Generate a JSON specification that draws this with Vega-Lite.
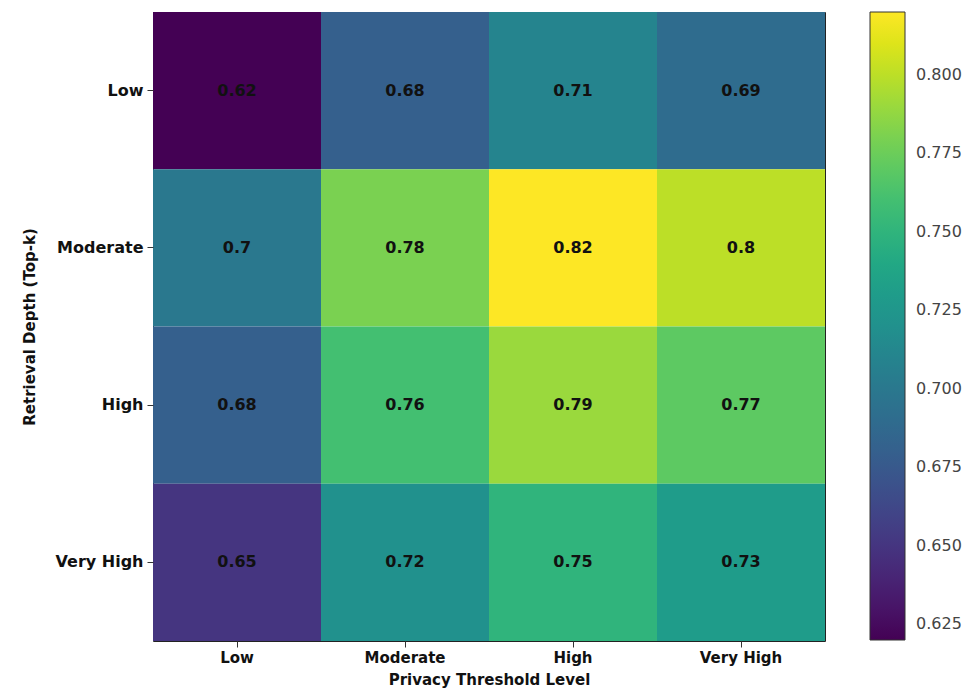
{
  "$schema": "https://vega.github.io/schema/vega-lite/v6.json",
  "width": 672,
  "height": 629,
  "autosize": {"type": "none"},
  "padding": {"left": 153, "top": 12, "right": 148, "bottom": 54},
  "background": "white",
  "config": {
    "font": "DejaVu Sans",
    "view": {"stroke": "#222", "strokeWidth": 1}
  },
  "data": {
    "values": [
      {"depth": "Low", "privacy": "Low", "value": 0.62},
      {"depth": "Low", "privacy": "Moderate", "value": 0.68},
      {"depth": "Low", "privacy": "High", "value": 0.71},
      {"depth": "Low", "privacy": "Very High", "value": 0.69},
      {"depth": "Moderate", "privacy": "Low", "value": 0.70},
      {"depth": "Moderate", "privacy": "Moderate", "value": 0.78},
      {"depth": "Moderate", "privacy": "High", "value": 0.82},
      {"depth": "Moderate", "privacy": "Very High", "value": 0.80},
      {"depth": "High", "privacy": "Low", "value": 0.68},
      {"depth": "High", "privacy": "Moderate", "value": 0.76},
      {"depth": "High", "privacy": "High", "value": 0.79},
      {"depth": "High", "privacy": "Very High", "value": 0.77},
      {"depth": "Very High", "privacy": "Low", "value": 0.65},
      {"depth": "Very High", "privacy": "Moderate", "value": 0.72},
      {"depth": "Very High", "privacy": "High", "value": 0.75},
      {"depth": "Very High", "privacy": "Very High", "value": 0.73}
    ]
  },
  "encoding": {
    "x": {
      "field": "privacy", "type": "ordinal",
      "sort": ["Low", "Moderate", "High", "Very High"],
      "scale": {"paddingInner": 0, "paddingOuter": 0},
      "axis": {
        "title": "Privacy Threshold Level",
        "labelAngle": 0,
        "labelFont": "DejaVu Sans", "labelFontSize": 15, "labelFontWeight": "bold", "labelColor": "#111",
        "titleFont": "DejaVu Sans", "titleFontSize": 15, "titleFontWeight": "bold", "titleColor": "#111",
        "tickSize": 6, "tickColor": "#333", "domain": false, "labelPadding": 3, "titlePadding": 7
      }
    },
    "y": {
      "field": "depth", "type": "ordinal",
      "sort": ["Low", "Moderate", "High", "Very High"],
      "scale": {"paddingInner": 0, "paddingOuter": 0},
      "axis": {
        "title": "Retrieval Depth (Top-k)",
        "labelFont": "DejaVu Sans", "labelFontSize": 16, "labelFontWeight": "bold", "labelColor": "#111",
        "titleFont": "DejaVu Sans", "titleFontSize": 15, "titleFontWeight": "bold", "titleColor": "#111",
        "tickSize": 6, "tickColor": "#333", "domain": false, "labelPadding": 4, "titlePadding": 18
      }
    }
  },
  "layer": [
    {
      "mark": {"type": "rect"},
      "encoding": {
        "color": {
          "field": "value", "type": "quantitative",
          "scale": {"scheme": "viridis", "domain": [0.62, 0.82]},
          "legend": {
            "title": null,
            "orient": "none",
            "legendX": 717,
            "legendY": 0,
            "direction": "vertical",
            "gradientLength": 628,
            "gradientThickness": 35,
            "gradientStrokeColor": "#333",
            "gradientStrokeWidth": 1,
            "values": [0.625, 0.65, 0.675, 0.7, 0.725, 0.75, 0.775, 0.8],
            "format": ".3f",
            "labelFont": "DejaVu Sans",
            "labelFontSize": 16,
            "labelColor": "#444",
            "labelOffset": 11
          }
        }
      }
    },
    {
      "mark": {"type": "text", "font": "DejaVu Sans", "fontSize": 16, "fontWeight": "bold", "color": "#111"},
      "encoding": {
        "text": {"field": "value", "type": "quantitative", "format": "~g"}
      }
    }
  ]
}
